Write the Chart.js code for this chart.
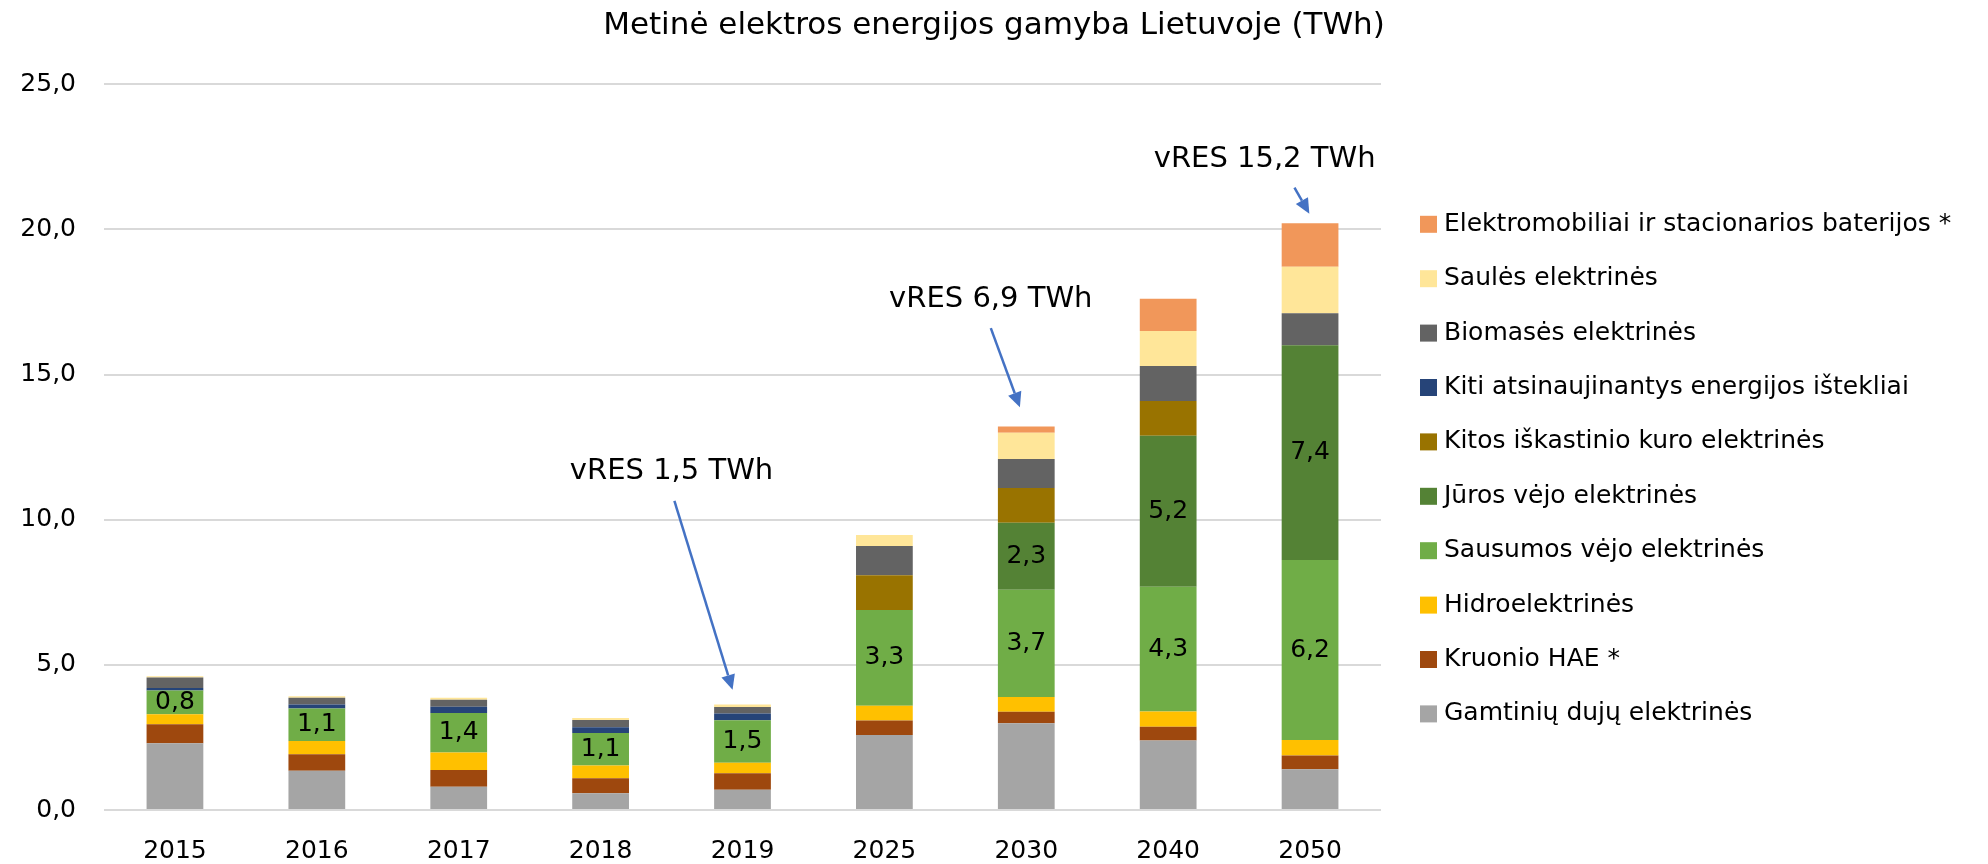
<!DOCTYPE html>
<html><head><meta charset="utf-8">
<script src="https://cdn.jsdelivr.net/npm/chart.js@4.4.0/dist/chart.umd.min.js"></script>
<style>html,body{margin:0;padding:0;background:#fff;} #wrap{width:1988px;height:864px;position:relative}</style>
</head><body><div id="wrap"><canvas id="c"></canvas></div>
<script>
// ---- data ----
const years = ['2015','2016','2017','2018','2019','2025','2030','2040','2050'];
const gasPlants      = [2.30, 1.35, 0.80, 0.58, 0.70, 2.58, 2.99, 2.39, 1.40];
const kruonioHAE     = [0.65, 0.57, 0.58, 0.51, 0.57, 0.50, 0.39, 0.48, 0.48];
const hydro          = [0.35, 0.46, 0.60, 0.44, 0.36, 0.51, 0.51, 0.52, 0.53];
const onshoreWind    = [0.82, 1.12, 1.36, 1.12, 1.46, 3.30, 3.70, 4.30, 6.20];
const offshoreWind   = [0, 0, 0, 0, 0, 0, 2.30, 5.20, 7.40];
const otherFossil    = [0, 0, 0, 0, 0, 1.20, 1.20, 1.20, 0];
const otherRenewable = [0.08, 0.13, 0.22, 0.20, 0.23, 0, 0, 0, 0];
const biomass        = [0.36, 0.24, 0.24, 0.25, 0.23, 1.00, 1.00, 1.20, 1.10];
const solar          = [0.05, 0.05, 0.07, 0.07, 0.08, 0.38, 0.90, 1.21, 1.60];
const evBatteries    = [0, 0, 0, 0, 0, 0, 0.22, 1.11, 1.50];
const seriesNames = [
  'Gamtinių dujų elektrinės',
  'Kruonio HAE *',
  'Hidroelektrinės',
  'Sausumos vėjo elektrinės',
  'Jūros vėjo elektrinės',
  'Kitos iškastinio kuro elektrinės',
  'Kiti atsinaujinantys energijos ištekliai',
  'Biomasės elektrinės',
  'Saulės elektrinės',
  'Elektromobiliai ir stacionarios baterijos *'
];
const yTickLabels = ['0,0','5,0','10,0','15,0','20,0','25,0'];
const chartTitle = 'Metinė elektros energijos gamyba Lietuvoje (TWh)';
const vresNotes = ['vRES 1,5 TWh', 'vRES 6,9 TWh', 'vRES 15,2 TWh'];

// ---- styles ----
const colors = ['#A5A5A5','#9E480E','#FFC000','#70AD47','#548235','#997300','#264478','#636363','#FFE699','#F1975A'];
const labelled = [false,false,false,true,true,false,false,false,false,false];
const seriesData = [gasPlants,kruonioHAE,hydro,onshoreWind,offshoreWind,otherFossil,otherRenewable,biomass,solar,evBatteries];
const FONT = 'DejaVu Sans';
Chart.defaults.font.family = FONT;
Chart.defaults.color = '#000';

const datasets = seriesNames.map((n,i)=>({
  label:n, data:seriesData[i], backgroundColor:colors[i], borderWidth:0,
  barPercentage:0.4, categoryPercentage:1.0, showValues:labelled[i]
}));

// annotation placement in data units (category index, value)
const notePlacement = [
  {tx:3.50, ty:11.40, from:[3.52,10.65], to:[3.93,4.14]},
  {tx:5.75, ty:17.33, from:[5.75,16.60], to:[5.955,13.87]},
  {tx:7.68, ty:22.15, from:[7.89,21.44], to:[7.995,20.54]}
];

const valueLabels = {
  id:'valueLabels',
  afterDatasetsDraw(chart){
    const ctx = chart.ctx;
    ctx.save();
    ctx.font = '25px "'+FONT+'"';
    ctx.fillStyle = '#000';
    ctx.textAlign = 'center';
    ctx.textBaseline = 'middle';
    chart.data.datasets.forEach((ds,di)=>{
      if(!ds.showValues) return;
      const meta = chart.getDatasetMeta(di);
      meta.data.forEach((el,i)=>{
        const v = ds.data[i];
        if(!v) return;
        ctx.fillText(v.toFixed(1).replace('.',','), el.x, (el.y+el.base)/2);
      });
    });
    ctx.restore();
  }
};

const notes = {
  id:'notes',
  afterDatasetsDraw(chart){
    const ctx = chart.ctx, xs = chart.scales.x, ys = chart.scales.y;
    const px = v => xs.getPixelForValue(v), py = v => ys.getPixelForValue(v);
    ctx.save();
    vresNotes.forEach((t,i)=>{
      const p = notePlacement[i];
      ctx.font = '29px "'+FONT+'"';
      ctx.fillStyle = '#000';
      ctx.textAlign = 'center';
      ctx.textBaseline = 'alphabetic';
      ctx.fillText(t, px(p.tx), py(p.ty));
      const x1 = px(p.from[0]), y1 = py(p.from[1]), x2 = px(p.to[0]), y2 = py(p.to[1]);
      const ang = Math.atan2(y2-y1, x2-x1);
      const hl = 15, hw = 7;
      const bx = x2 - hl*Math.cos(ang), by = y2 - hl*Math.sin(ang);
      ctx.strokeStyle = '#4472C4'; ctx.fillStyle = '#4472C4'; ctx.lineWidth = 2.5;
      ctx.beginPath(); ctx.moveTo(x1,y1); ctx.lineTo(bx,by); ctx.stroke();
      ctx.beginPath();
      ctx.moveTo(x2,y2);
      ctx.lineTo(bx + hw*Math.sin(ang), by - hw*Math.cos(ang));
      ctx.lineTo(bx - hw*Math.sin(ang), by + hw*Math.cos(ang));
      ctx.closePath(); ctx.fill();
    });
    ctx.restore();
  }
};

// legend drawn beside the plot, top item = last dataset
const sideLegend = {
  id:'sideLegend',
  afterDraw(chart){
    const ctx = chart.ctx, ca = chart.chartArea;
    const items = chart.data.datasets.slice().reverse();
    const rowH = 54.4, box = 17;
    const centerY = (ca.top + ca.bottom)/2 + 22;
    const top = centerY - rowH*(items.length-1)/2;
    const bx = ca.right + 39, tx = bx + box + 7;
    ctx.save();
    ctx.font = '25px "'+FONT+'"';
    ctx.textAlign = 'left';
    ctx.textBaseline = 'middle';
    items.forEach((ds,i)=>{
      const y = top + i*rowH;
      ctx.fillStyle = ds.backgroundColor;
      ctx.fillRect(bx, y - box/2, box, box);
      ctx.fillStyle = '#000';
      ctx.fillText(ds.label, tx, y);
    });
    ctx.restore();
  }
};

new Chart(document.getElementById('c'), {
  type:'bar',
  data:{labels:years, datasets},
  options:{
    responsive:true, maintainAspectRatio:false, animation:false,
    layout:{padding:{left:0,right:0,top:0,bottom:0}},
    plugins:{
      title:{display:true, text:chartTitle, font:{size:31, weight:'normal'}, color:'#000', padding:{top:7,bottom:40}},
      legend:{display:false},
      tooltip:{enabled:false}
    },
    scales:{
      x:{stacked:true, grid:{display:false}, border:{display:false},
         ticks:{font:{size:25}, color:'#000', padding:18},
         afterFit:s=>{s.height = 54;}},
      y:{stacked:true, min:0, max:25,
         ticks:{stepSize:5, font:{size:25}, color:'#000', padding:28,
                callback:(v)=>yTickLabels[Math.round(v/5)]},
         grid:{color:'#D9D9D9', lineWidth:2, drawTicks:false},
         border:{display:false},
         afterFit:s=>{s.width = 104;}},
      y2:{position:'right', display:true, grid:{display:false}, border:{display:false},
          ticks:{display:false}, afterFit:s=>{s.width = 607;}}
    }
  },
  plugins:[valueLabels, notes, sideLegend]
});
</script></body></html>
